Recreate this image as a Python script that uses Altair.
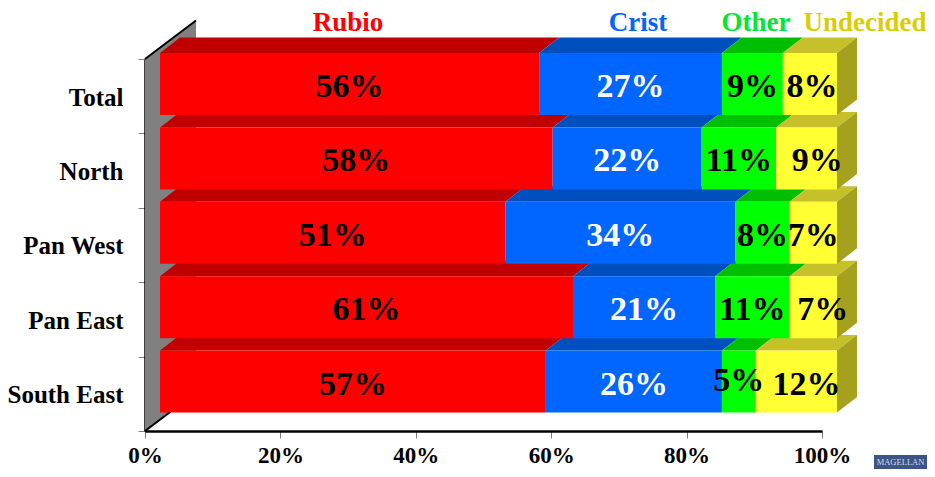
import json
import altair as alt
import pandas as pd

categories = ["Total", "North", "Pan West", "Pan East", "South East"]
series = ["Rubio", "Crist", "Other", "Undecided"]
rubio = [56, 58, 51, 61, 57]
crist = [27, 22, 34, 21, 26]
other = [9, 11, 8, 11, 5]
undecided = [8, 9, 7, 7, 12]
x_ticks = [0, 20, 40, 60, 80, 100]

values = dict(zip(series, [rubio, crist, other, undecided]))
front_col = dict(zip(series, ["#FF0000", "#0066FF", "#00FF00", "#FFFF33"]))
top_col = dict(zip(series, ["#C00000", "#004FBF", "#00BF00", "#C6C02B"]))
title_col = dict(zip(series, ["#FF0000", "#0066FF", "#00E633", "#D9CF00"]))
text_col = dict(zip(series, ["#000000", "#FFFFFF", "#000000", "#000000"]))
SIDE = "#A5A11E"
WALL = "#808080"
FONT = "Liberation Serif"

# 3-D projection, in data units
PX_X = 6.77
PX_Y = 74.4
SHIFT = 15 / PX_X
DX = 20 / PX_X
DY = 15.5 / PX_Y
F_TOP = -6 / PX_Y
F_BOT = 56 / PX_Y
LABEL_Y = 28 / PX_Y
nudge_x = {("North", "Undecided"): 1.6, ("Pan East", "Undecided"): 1.4,
           ("South East", "Undecided"): 1.5, ("Total", "Undecided"): 0.3}
nudge_y = {("South East", "Other"): -0.05}

fronts, tops, sides, labels = [], [], [], []
for r, cat in enumerate(categories):
    start = 0
    for s in series:
        v = values[s][r]
        a, b = start + SHIFT, start + v + SHIFT
        key = f"{r}-{s}"
        fronts.append(dict(x=a, x2=b, y=r + F_TOP, y2=r + F_BOT, c=front_col[s]))
        tops.append(dict(k=key, y=r + F_TOP, x=a, x2=b, c=top_col[s]))
        tops.append(dict(k=key, y=r + F_TOP - DY, x=a + DX, x2=b + DX, c=top_col[s]))
        labels.append(dict(x=(a + b) / 2 + nudge_x.get((cat, s), 0),
                           y=r + LABEL_Y + nudge_y.get((cat, s), 0),
                           t=f"{v}%", c=text_col[s]))
        start += v
    sides.append(dict(k=r, x=start + SHIFT, y=r + F_TOP, y2=r + F_BOT))
    sides.append(dict(k=r, x=start + SHIFT + DX, y=r + F_TOP - DY, y2=r + F_BOT - DY))

WALL_DX = 51 / PX_X
WALL_DY = 38.5 / PX_Y
n = len(categories)
wall = pd.DataFrame([dict(x=0, y=0, y2=n), dict(x=WALL_DX, y=-WALL_DY, y2=n - WALL_DY)])
edges = pd.DataFrame([dict(k="t", x=0, y=0), dict(k="t", x=WALL_DX, y=-WALL_DY),
                      dict(k="b", x=0, y=n), dict(k="b", x=WALL_DX / 2, y=n - WALL_DY / 2)])

title_x = dict(zip(series, [348, 638, 756, 865]))
titles = pd.DataFrame([dict(x=(title_x[s] - 145) / PX_X, y=-36 / PX_Y, t=s, c=title_col[s]) for s in series])

sx = alt.Scale(domain=[0, 100], nice=False, zero=False)
sy = alt.Scale(domain=[0, n], nice=False, zero=False, reverse=True)
label_js = json.dumps(categories + [""])
ax_x = alt.Axis(title=None, values=x_ticks, labelExpr="datum.value + '%'", grid=False,
                domainColor="#000000", domainWidth=2.5, tickColor="#808080", tickSize=7,
                labelFont=FONT, labelFontWeight="bold", labelFontSize=23, labelColor="#000000",
                labelPadding=6, labelFlush=False, labelOverlap=False)
ax_y = alt.Axis(title=None, values=list(range(n + 1)), labelExpr=f"{label_js}[datum.value]", grid=False,
                domainColor="#000000", domainWidth=2.5, tickColor="#808080", tickSize=7,
                labelFont=FONT, labelFontWeight="bold", labelFontSize=25, labelColor="#000000",
                labelPadding=15, labelOffset=38, labelFlush=False, labelOverlap=False)
X = lambda: alt.X("x:Q", scale=sx, axis=ax_x, stack=None)
Y = lambda: alt.Y("y:Q", scale=sy, axis=ax_y, stack=None)
col = alt.Color("c:N", scale=None, legend=None)

wall_l = alt.Chart(wall).mark_area(color=WALL, orient="vertical").encode(x=X(), y=Y(), y2="y2:Q")
edge_l = alt.Chart(edges).mark_line(color="#000000", strokeWidth=2).encode(x=X(), y=Y(), detail="k:N")
top_l = alt.Chart(pd.DataFrame(tops)).mark_area(orient="horizontal").encode(
    y=Y(), x=X(), x2="x2:Q", color=col, detail="k:N")
side_l = alt.Chart(pd.DataFrame(sides)).mark_area(color=SIDE, orient="vertical").encode(
    x=X(), y=Y(), y2="y2:Q", detail="k:N")
front_l = alt.Chart(pd.DataFrame(fronts)).mark_rect().encode(x=X(), x2="x2:Q", y=Y(), y2="y2:Q", color=col)
label_l = alt.Chart(pd.DataFrame(labels)).mark_text(
    font=FONT, fontWeight="bold", fontSize=34, baseline="middle", align="center").encode(
    x=X(), y=Y(), text="t:N", color=col)
title_l = alt.Chart(titles).mark_text(
    font=FONT, fontWeight="bold", fontSize=27, baseline="middle", align="center").encode(
    x=X(), y=Y(), text="t:N", color=col)
logo_df = pd.DataFrame([dict(t="MAGELLAN")])
logo_r = alt.Chart(logo_df).mark_rect(color="#3B5586").encode(
    x=alt.value(729), x2=alt.value(782), y=alt.value(396), y2=alt.value(410))
logo_t = alt.Chart(logo_df).mark_text(
    font=FONT, fontSize=8.5, color="#D5DCEA", align="center", baseline="middle").encode(
    x=alt.value(755.5), y=alt.value(403), text="t:N")

chart = alt.layer(wall_l, edge_l, top_l, side_l, front_l, label_l, title_l, logo_r, logo_t).properties(
    width=677, height=372,
    autosize=alt.AutoSizeParams(type="none"),
    padding={"left": 137, "top": 51, "right": 105, "bottom": 38},
).configure_view(stroke=None)

chart.save("out.html", embed_options={"renderer": "svg", "actions": False})
